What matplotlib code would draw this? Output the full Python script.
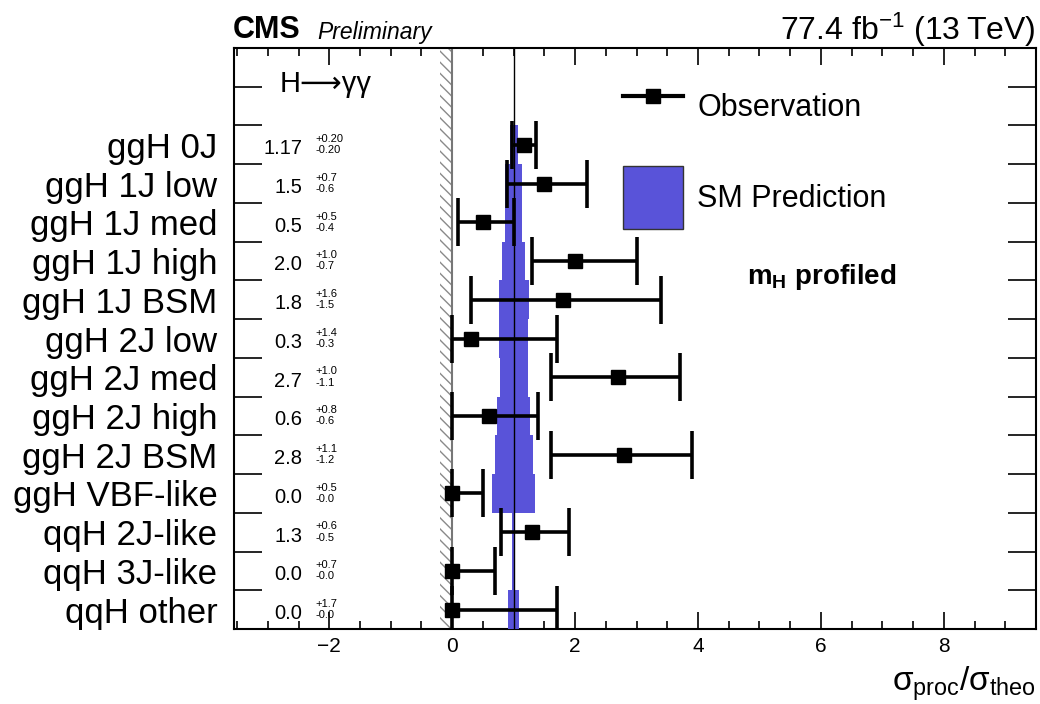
import matplotlib
matplotlib.use("Agg")
import matplotlib.pyplot as plt
from matplotlib.lines import Line2D
from matplotlib.patches import Patch
import numpy as np

plt.rcParams["font.family"] = ["Liberation Sans", "DejaVu Sans"]
plt.rcParams["mathtext.fontset"] = "custom"
plt.rcParams["mathtext.rm"] = "Liberation Sans"
plt.rcParams["mathtext.it"] = "Liberation Sans:italic"
plt.rcParams["mathtext.bf"] = "Liberation Sans:bold"
plt.rcParams["hatch.linewidth"] = 1.0

# Production-bin labels, top to bottom
categories = ["ggH 0J", "ggH 1J low", "ggH 1J med", "ggH 1J high", "ggH 1J BSM",
              "ggH 2J low", "ggH 2J med", "ggH 2J high", "ggH 2J BSM",
              "ggH VBF-like", "qqH 2J-like", "qqH 3J-like", "qqH other"]
# Best-fit signal strengths and asymmetric uncertainties
mu = [1.17, 1.5, 0.5, 2.0, 1.8, 0.3, 2.7, 0.6, 2.8, 0.0, 1.3, 0.0, 0.0]
err_up = [0.20, 0.7, 0.5, 1.0, 1.6, 1.4, 1.0, 0.8, 1.1, 0.5, 0.6, 0.7, 1.7]
err_dn = [0.20, 0.6, 0.4, 0.7, 1.5, 0.3, 1.1, 0.6, 1.2, 0.0, 0.5, 0.0, 0.0]
mu_text = ["1.17", "1.5", "0.5", "2.0", "1.8", "0.3", "2.7", "0.6", "2.8",
           "0.0", "1.3", "0.0", "0.0"]
up_text = ["+0.20", "+0.7", "+0.5", "+1.0", "+1.6", "+1.4", "+1.0", "+0.8", "+1.1",
           "+0.5", "+0.6", "+0.7", "+1.7"]
dn_text = ["-0.20", "-0.6", "-0.4", "-0.7", "-1.5", "-0.3", "-1.1", "-0.6", "-1.2",
           "-0.0", "-0.5", "-0.0", "-0.0"]
# Theory uncertainty (half-width) on the SM prediction for each bin
sm_unc = [0.065, 0.135, 0.135, 0.19, 0.245, 0.235, 0.23, 0.27, 0.31,
          0.345, 0.02, 0.02, 0.085]
sm_value = 1.0

n = len(categories)
ypos = np.arange(n)[::-1].astype(float)

fig = plt.figure(figsize=(10.4, 7.04), dpi=100)
ax = fig.add_axes([0.225, 0.1065, 0.7712, 0.8253])
ax.set_xlim(-3.55, 9.5)
ax.set_ylim(-0.5, 14.5)

# physical boundary at zero
ax.axvspan(-0.2, 0.0, facecolor="none", edgecolor="#8a8a8a", hatch="\\" * 3,
           linewidth=0, zorder=1)
ax.axvline(0.0, color="#777777", lw=1.5, zorder=2)

# SM prediction bands
sm_unc_a = np.array(sm_unc)
ax.barh(ypos, 2 * sm_unc_a, left=sm_value - sm_unc_a, height=1.0,
        color="#5953d9", edgecolor="none", zorder=3)
ax.axvline(sm_value, color="black", lw=1.0, zorder=4)

# observed values
ax.errorbar(mu, ypos, xerr=[err_dn, err_up], fmt="s", color="black",
            ms=10, elinewidth=2.6, capsize=17, capthick=2.6, zorder=5)

# value annotations
for y, m, u, d in zip(ypos, mu_text, up_text, dn_text):
    ax.text(-2.44, y - 0.1, m, ha="right", va="center", fontsize=14.5, zorder=6)
    ax.text(-2.23, y + 0.15, u, ha="left", va="center", fontsize=8, zorder=6)
    ax.text(-2.23, y - 0.14, d, ha="left", va="center", fontsize=8, zorder=6)

ax.text(-2.8, 13.58, "H\u27f6\u03b3\u03b3", ha="left", va="center", fontsize=21)

# axes styling
ax.set_xticks(np.arange(-2, 9, 2))
ax.set_xticks(np.arange(-3.5, 9.51, 0.5), minor=True)
ax.set_xticklabels(["\u22122", "0", "2", "4", "6", "8"])
ax.set_yticks(np.arange(0.5, 14.0, 1.0))
ax.set_yticklabels([])
ax.set_yticks(ypos, minor=True)
ax.set_yticklabels(categories, minor=True)
ax.tick_params(axis="x", which="major", direction="in", length=12, width=1.2,
               top=True, labelsize=15, pad=6)
ax.tick_params(axis="x", which="minor", direction="in", length=6, width=1.2, top=True)
ax.tick_params(axis="y", which="major", direction="in", length=20, width=1.2, right=True)
ax.tick_params(axis="y", which="minor", length=0, labelsize=25, pad=12)
for s in ax.spines.values():
    s.set_linewidth(1.5)

ax.set_xlabel("\u03c3$_{\\rm proc}$/\u03c3$_{\\rm theo}$", fontsize=24, loc="right",
              labelpad=6)

# legend
handles = [Line2D([], [], color="black", marker="s", ms=10, lw=3),
           Patch(facecolor="#5953d9", edgecolor="#333333", linewidth=1)]
ax.legend(handles, ["Observation", "SM Prediction"], loc="upper left",
          bbox_to_anchor=(0.485, 0.953), frameon=False, fontsize=22,
          handlelength=1.98, handleheight=2.8, handletextpad=0.45,
          labelspacing=0.9, borderpad=0, borderaxespad=0)

ax.text(0.64, 0.606, "$\\mathbf{m}_{\\mathbf{H}}$ profiled", transform=ax.transAxes,
        fontsize=20, fontweight="bold", ha="left", va="center")

# header
fig.text(0.224, 0.957, "CMS", fontsize=22, fontweight="bold", ha="left", va="center")
fig.text(0.305, 0.954, "Preliminary", fontsize=16.5, style="italic", ha="left", va="center")
fig.text(0.996, 0.957, "77.4 fb$^{-1}$ (13\u2009TeV)", fontsize=23, ha="right",
         va="center")

fig.savefig("out.png", dpi=100)
